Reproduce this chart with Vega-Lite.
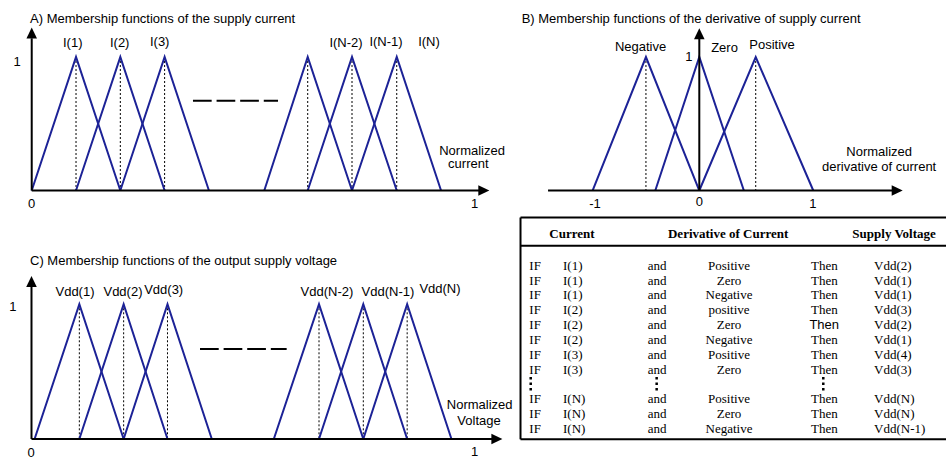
{
  "$schema": "https://vega.github.io/schema/vega-lite/v6.json",
  "background": "white",
  "padding": 0,
  "spacing": 0,
  "bounds": "flush",
  "columns": 2,
  "config": {"view": {"stroke": null}, "text": {"font": "Liberation Sans", "fontSize": 13, "color": "black"}},
  "datasets": {
    "A_mf": [
      {"fn": "I(1)", "k": 0, "x": 0, "mu": 0}, {"fn": "I(1)", "k": 1, "x": 0.1, "mu": 1}, {"fn": "I(1)", "k": 2, "x": 0.2, "mu": 0},
      {"fn": "I(2)", "k": 0, "x": 0.1, "mu": 0}, {"fn": "I(2)", "k": 1, "x": 0.2, "mu": 1}, {"fn": "I(2)", "k": 2, "x": 0.3, "mu": 0},
      {"fn": "I(3)", "k": 0, "x": 0.2, "mu": 0}, {"fn": "I(3)", "k": 1, "x": 0.3, "mu": 1}, {"fn": "I(3)", "k": 2, "x": 0.4, "mu": 0},
      {"fn": "I(N-2)", "k": 0, "x": 0.525, "mu": 0}, {"fn": "I(N-2)", "k": 1, "x": 0.623, "mu": 1}, {"fn": "I(N-2)", "k": 2, "x": 0.723, "mu": 0},
      {"fn": "I(N-1)", "k": 0, "x": 0.623, "mu": 0}, {"fn": "I(N-1)", "k": 1, "x": 0.723, "mu": 1}, {"fn": "I(N-1)", "k": 2, "x": 0.824, "mu": 0},
      {"fn": "I(N)", "k": 0, "x": 0.723, "mu": 0}, {"fn": "I(N)", "k": 1, "x": 0.824, "mu": 1}, {"fn": "I(N)", "k": 2, "x": 0.924, "mu": 0}
    ],
    "A_text": [
      {"kind": "title", "text": "A) Membership functions of the supply current", "x": -0.0038, "y": 1.284},
      {"kind": "label", "text": "I(1)", "x": 0.0926, "y": 1.103},
      {"kind": "label", "text": "I(2)", "x": 0.1986, "y": 1.103},
      {"kind": "label", "text": "I(3)", "x": 0.2889, "y": 1.115},
      {"kind": "label", "text": "I(N-2)", "x": 0.7095, "y": 1.103},
      {"kind": "label", "text": "I(N-1)", "x": 0.7998, "y": 1.115},
      {"kind": "label", "text": "I(N)", "x": 0.8968, "y": 1.11},
      {"kind": "label", "text": "1", "x": -0.0332, "y": 0.965},
      {"kind": "label", "text": "0", "x": 0, "y": -0.101},
      {"kind": "label", "text": "1", "x": 1.0, "y": -0.101},
      {"kind": "label", "text": "Normalized", "x": 0.994, "y": 0.298},
      {"kind": "label", "text": "current", "x": 0.9856, "y": 0.196}
    ],
    "B_mf": [
      {"fn": "Negative", "k": 0, "x": -0.97, "mu": 0}, {"fn": "Negative", "k": 1, "x": -0.485, "mu": 1}, {"fn": "Negative", "k": 2, "x": 0, "mu": 0},
      {"fn": "Zero", "k": 0, "x": -0.4, "mu": 0}, {"fn": "Zero", "k": 1, "x": 0, "mu": 1}, {"fn": "Zero", "k": 2, "x": 0.405, "mu": 0},
      {"fn": "Positive", "k": 0, "x": 0, "mu": 0}, {"fn": "Positive", "k": 1, "x": 0.513, "mu": 1}, {"fn": "Positive", "k": 2, "x": 1.036, "mu": 0}
    ],
    "B_text": [
      {"kind": "title", "text": "B) Membership functions of the derivative of supply current", "x": -1.615, "y": 1.2846},
      {"kind": "label", "text": "Negative", "x": -0.534, "y": 1.075},
      {"kind": "label", "text": "Zero", "x": 0.229, "y": 1.067},
      {"kind": "label", "text": "Positive", "x": 0.661, "y": 1.09},
      {"kind": "label", "text": "1", "x": -0.094, "y": 1.0},
      {"kind": "label", "text": "-1", "x": -0.948, "y": -0.101},
      {"kind": "label", "text": "0", "x": 0, "y": -0.086},
      {"kind": "label", "text": "1", "x": 1.033, "y": -0.101},
      {"kind": "label", "text": "Normalized", "x": 1.635, "y": 0.288},
      {"kind": "label", "text": "derivative of current", "x": 1.635, "y": 0.178}
    ],
    "C_mf": [
      {"fn": "Vdd(1)", "k": 0, "x": 0.007, "mu": 0}, {"fn": "Vdd(1)", "k": 1, "x": 0.108, "mu": 1}, {"fn": "Vdd(1)", "k": 2, "x": 0.208, "mu": 0},
      {"fn": "Vdd(2)", "k": 0, "x": 0.108, "mu": 0}, {"fn": "Vdd(2)", "k": 1, "x": 0.208, "mu": 1}, {"fn": "Vdd(2)", "k": 2, "x": 0.307, "mu": 0},
      {"fn": "Vdd(3)", "k": 0, "x": 0.208, "mu": 0}, {"fn": "Vdd(3)", "k": 1, "x": 0.307, "mu": 1}, {"fn": "Vdd(3)", "k": 2, "x": 0.407, "mu": 0},
      {"fn": "Vdd(N-2)", "k": 0, "x": 0.547, "mu": 0}, {"fn": "Vdd(N-2)", "k": 1, "x": 0.649, "mu": 1}, {"fn": "Vdd(N-2)", "k": 2, "x": 0.749, "mu": 0},
      {"fn": "Vdd(N-1)", "k": 0, "x": 0.649, "mu": 0}, {"fn": "Vdd(N-1)", "k": 1, "x": 0.749, "mu": 1}, {"fn": "Vdd(N-1)", "k": 2, "x": 0.848, "mu": 0},
      {"fn": "Vdd(N)", "k": 0, "x": 0.749, "mu": 0}, {"fn": "Vdd(N)", "k": 1, "x": 0.848, "mu": 1}, {"fn": "Vdd(N)", "k": 2, "x": 0.948, "mu": 0}
    ],
    "C_text": [
      {"kind": "title", "text": "C) Membership functions of the output supply voltage", "x": -0.0034, "y": 1.3237},
      {"kind": "label", "text": "Vdd(1)", "x": 0.0982, "y": 1.094},
      {"kind": "label", "text": "Vdd(2)", "x": 0.2065, "y": 1.094},
      {"kind": "label", "text": "Vdd(3)", "x": 0.2984, "y": 1.106},
      {"kind": "label", "text": "Vdd(N-2)", "x": 0.667, "y": 1.094},
      {"kind": "label", "text": "Vdd(N-1)", "x": 0.8047, "y": 1.094},
      {"kind": "label", "text": "Vdd(N)", "x": 0.9221, "y": 1.114},
      {"kind": "label", "text": "1", "x": -0.0418, "y": 0.982},
      {"kind": "label", "text": "0", "x": -0.001, "y": -0.102},
      {"kind": "label", "text": "1", "x": 1.0, "y": -0.0965},
      {"kind": "label", "text": "Normalized", "x": 1.0117, "y": 0.2524},
      {"kind": "label", "text": "Voltage", "x": 1.0102, "y": 0.1359}
    ],
    "T_rows": [
      {"row": 1, "cur": "I(1)", "der": "Positive", "out": "Vdd(2)"},
      {"row": 2, "cur": "I(1)", "der": "Zero", "out": "Vdd(1)"},
      {"row": 3, "cur": "I(1)", "der": "Negative", "out": "Vdd(1)"},
      {"row": 4, "cur": "I(2)", "der": "positive", "out": "Vdd(3)"},
      {"row": 5, "cur": "I(2)", "der": "Zero", "out": "Vdd(2)"},
      {"row": 6, "cur": "I(2)", "der": "Negative", "out": "Vdd(1)"},
      {"row": 7, "cur": "I(3)", "der": "Positive", "out": "Vdd(4)"},
      {"row": 8, "cur": "I(3)", "der": "Zero", "out": "Vdd(3)"},
      {"row": 10, "cur": "I(N)", "der": "Positive", "out": "Vdd(N)"},
      {"row": 11, "cur": "I(N)", "der": "Zero", "out": "Vdd(N)"},
      {"row": 12, "cur": "I(N)", "der": "Negative", "out": "Vdd(N-1)"}
    ]
  },
  "concat": [
    {
      "width": 490,
      "height": 210,
      "layer": [
        {
          "data": {"name": "A_mf"},
          "transform": [{"filter": "datum.mu == 1"}],
          "mark": {"type": "rule", "color": "black", "strokeWidth": 1, "strokeDash": [2, 2]},
          "encoding": {
            "x": {"field": "x", "type": "quantitative", "scale": {"domain": [-0.0716, 1.0345], "nice": false, "zero": false}, "axis": null},
            "y": {"field": "mu", "type": "quantitative", "scale": {"domain": [-0.146, 1.427], "nice": false, "zero": false}, "axis": null},
            "y2": {"datum": 0}
          }
        },
        {
          "data": {"name": "A_mf"},
          "mark": {"type": "line", "color": "#1c2296", "strokeWidth": 2},
          "encoding": {
            "x": {"field": "x", "type": "quantitative", "scale": {"domain": [-0.0716, 1.0345], "nice": false, "zero": false}, "axis": null},
            "y": {"field": "mu", "type": "quantitative", "scale": {"domain": [-0.146, 1.427], "nice": false, "zero": false}, "axis": null},
            "detail": {"field": "fn"},
            "order": {"field": "k"}
          }
        },
        {
          "data": {"values": [{}]},
          "mark": {"type": "rule", "color": "black", "strokeWidth": 2},
          "encoding": {
            "x": {"datum": 0, "type": "quantitative", "scale": {"domain": [-0.0716, 1.0345], "nice": false, "zero": false}, "axis": null},
            "y": {"datum": 0, "type": "quantitative", "scale": {"domain": [-0.146, 1.427], "nice": false, "zero": false}, "axis": null},
            "y2": {"datum": 1.14}
          }
        },
        {
          "data": {"values": [{}]},
          "mark": {"type": "rule", "color": "black", "strokeWidth": 2},
          "encoding": {
            "x": {"datum": 0, "type": "quantitative", "scale": {"domain": [-0.0716, 1.0345], "nice": false, "zero": false}, "axis": null},
            "x2": {"datum": 1.01},
            "y": {"datum": 0, "type": "quantitative", "scale": {"domain": [-0.146, 1.427], "nice": false, "zero": false}, "axis": null}
          }
        },
        {
          "data": {"values": [{}]},
          "mark": {"type": "rule", "color": "black", "strokeWidth": 2, "strokeDash": [18.7, 4.9]},
          "encoding": {
            "x": {"datum": 0.364, "type": "quantitative", "scale": {"domain": [-0.0716, 1.0345], "nice": false, "zero": false}, "axis": null},
            "x2": {"datum": 0.556},
            "y": {"datum": 0.673, "type": "quantitative", "scale": {"domain": [-0.146, 1.427], "nice": false, "zero": false}, "axis": null}
          }
        },
        {
          "data": {"values": [{}]},
          "mark": {"type": "point", "shape": "M0,0L0.96,2L-0.96,2Z", "size": 121, "filled": true, "color": "black", "opacity": 1, "strokeWidth": 0},
          "encoding": {
            "x": {"datum": 0, "type": "quantitative", "scale": {"domain": [-0.0716, 1.0345], "nice": false, "zero": false}, "axis": null},
            "y": {"datum": 1.221, "type": "quantitative", "scale": {"domain": [-0.146, 1.427], "nice": false, "zero": false}, "axis": null}
          }
        },
        {
          "data": {"values": [{}]},
          "mark": {"type": "point", "shape": "M0,0L-2,-0.96L-2,0.96Z", "size": 121, "filled": true, "color": "black", "opacity": 1, "strokeWidth": 0},
          "encoding": {
            "x": {"datum": 1.033, "type": "quantitative", "scale": {"domain": [-0.0716, 1.0345], "nice": false, "zero": false}, "axis": null},
            "y": {"datum": 0, "type": "quantitative", "scale": {"domain": [-0.146, 1.427], "nice": false, "zero": false}, "axis": null}
          }
        },
        {
          "data": {"name": "A_text"},
          "transform": [{"filter": "datum.kind == 'label'"}],
          "mark": {"type": "text", "align": "center", "baseline": "middle"},
          "encoding": {
            "x": {"field": "x", "type": "quantitative", "scale": {"domain": [-0.0716, 1.0345], "nice": false, "zero": false}, "axis": null},
            "y": {"field": "y", "type": "quantitative", "scale": {"domain": [-0.146, 1.427], "nice": false, "zero": false}, "axis": null},
            "text": {"field": "text"}
          }
        },
        {
          "data": {"name": "A_text"},
          "transform": [{"filter": "datum.kind == 'title'"}],
          "mark": {"type": "text", "align": "left", "baseline": "middle"},
          "encoding": {
            "x": {"field": "x", "type": "quantitative", "scale": {"domain": [-0.0716, 1.0345], "nice": false, "zero": false}, "axis": null},
            "y": {"field": "y", "type": "quantitative", "scale": {"domain": [-0.146, 1.427], "nice": false, "zero": false}, "axis": null},
            "text": {"field": "text"}
          }
        }
      ]
    },
    {
      "width": 456,
      "height": 210,
      "layer": [
        {
          "data": {"name": "B_mf"},
          "transform": [{"filter": "datum.mu == 1 && datum.x != 0"}],
          "mark": {"type": "rule", "color": "black", "strokeWidth": 1, "strokeDash": [2, 2]},
          "encoding": {
            "x": {"field": "x", "type": "quantitative", "scale": {"domain": [-1.9027, 2.2427], "nice": false, "zero": false}, "axis": null},
            "y": {"field": "mu", "type": "quantitative", "scale": {"domain": [-0.146, 1.427], "nice": false, "zero": false}, "axis": null},
            "y2": {"datum": 0}
          }
        },
        {
          "data": {"name": "B_mf"},
          "mark": {"type": "line", "color": "#1c2296", "strokeWidth": 2},
          "encoding": {
            "x": {"field": "x", "type": "quantitative", "scale": {"domain": [-1.9027, 2.2427], "nice": false, "zero": false}, "axis": null},
            "y": {"field": "mu", "type": "quantitative", "scale": {"domain": [-0.146, 1.427], "nice": false, "zero": false}, "axis": null},
            "detail": {"field": "fn"},
            "order": {"field": "k"}
          }
        },
        {
          "data": {"values": [{}]},
          "mark": {"type": "rule", "color": "black", "strokeWidth": 2},
          "encoding": {
            "x": {"datum": 0, "type": "quantitative", "scale": {"domain": [-1.9027, 2.2427], "nice": false, "zero": false}, "axis": null},
            "y": {"datum": 0, "type": "quantitative", "scale": {"domain": [-0.146, 1.427], "nice": false, "zero": false}, "axis": null},
            "y2": {"datum": 1.14}
          }
        },
        {
          "data": {"values": [{}]},
          "mark": {"type": "rule", "color": "black", "strokeWidth": 2},
          "encoding": {
            "x": {"datum": -1.375, "type": "quantitative", "scale": {"domain": [-1.9027, 2.2427], "nice": false, "zero": false}, "axis": null},
            "x2": {"datum": 1.76},
            "y": {"datum": 0, "type": "quantitative", "scale": {"domain": [-0.146, 1.427], "nice": false, "zero": false}, "axis": null}
          }
        },
        {
          "data": {"values": [{}]},
          "mark": {"type": "point", "shape": "M0,0L0.96,2L-0.96,2Z", "size": 121, "filled": true, "color": "black", "opacity": 1, "strokeWidth": 0},
          "encoding": {
            "x": {"datum": 0, "type": "quantitative", "scale": {"domain": [-1.9027, 2.2427], "nice": false, "zero": false}, "axis": null},
            "y": {"datum": 1.215, "type": "quantitative", "scale": {"domain": [-0.146, 1.427], "nice": false, "zero": false}, "axis": null}
          }
        },
        {
          "data": {"values": [{}]},
          "mark": {"type": "point", "shape": "M0,0L-2,-0.96L-2,0.96Z", "size": 121, "filled": true, "color": "black", "opacity": 1, "strokeWidth": 0},
          "encoding": {
            "x": {"datum": 1.849, "type": "quantitative", "scale": {"domain": [-1.9027, 2.2427], "nice": false, "zero": false}, "axis": null},
            "y": {"datum": 0, "type": "quantitative", "scale": {"domain": [-0.146, 1.427], "nice": false, "zero": false}, "axis": null}
          }
        },
        {
          "data": {"name": "B_text"},
          "transform": [{"filter": "datum.kind == 'label'"}],
          "mark": {"type": "text", "align": "center", "baseline": "middle"},
          "encoding": {
            "x": {"field": "x", "type": "quantitative", "scale": {"domain": [-1.9027, 2.2427], "nice": false, "zero": false}, "axis": null},
            "y": {"field": "y", "type": "quantitative", "scale": {"domain": [-0.146, 1.427], "nice": false, "zero": false}, "axis": null},
            "text": {"field": "text"}
          }
        },
        {
          "data": {"name": "B_text"},
          "transform": [{"filter": "datum.kind == 'title'"}],
          "mark": {"type": "text", "align": "left", "baseline": "middle"},
          "encoding": {
            "x": {"field": "x", "type": "quantitative", "scale": {"domain": [-1.9027, 2.2427], "nice": false, "zero": false}, "axis": null},
            "y": {"field": "y", "type": "quantitative", "scale": {"domain": [-0.146, 1.427], "nice": false, "zero": false}, "axis": null},
            "text": {"field": "text"}
          }
        }
      ]
    },
    {
      "width": 490,
      "height": 248,
      "layer": [
        {
          "data": {"name": "C_mf"},
          "transform": [{"filter": "datum.mu == 1"}],
          "mark": {"type": "rule", "color": "black", "strokeWidth": 1, "strokeDash": [2, 2]},
          "encoding": {
            "x": {"field": "x", "type": "quantitative", "scale": {"domain": [-0.0711, 1.035], "nice": false, "zero": false}, "axis": null},
            "y": {"field": "mu", "type": "quantitative", "scale": {"domain": [-0.141, 1.7], "nice": false, "zero": false}, "axis": null},
            "y2": {"datum": 0}
          }
        },
        {
          "data": {"name": "C_mf"},
          "mark": {"type": "line", "color": "#1c2296", "strokeWidth": 2},
          "encoding": {
            "x": {"field": "x", "type": "quantitative", "scale": {"domain": [-0.0711, 1.035], "nice": false, "zero": false}, "axis": null},
            "y": {"field": "mu", "type": "quantitative", "scale": {"domain": [-0.141, 1.7], "nice": false, "zero": false}, "axis": null},
            "detail": {"field": "fn"},
            "order": {"field": "k"}
          }
        },
        {
          "data": {"values": [{}]},
          "mark": {"type": "rule", "color": "black", "strokeWidth": 2},
          "encoding": {
            "x": {"datum": 0, "type": "quantitative", "scale": {"domain": [-0.0711, 1.035], "nice": false, "zero": false}, "axis": null},
            "y": {"datum": 0, "type": "quantitative", "scale": {"domain": [-0.141, 1.7], "nice": false, "zero": false}, "axis": null},
            "y2": {"datum": 1.13}
          }
        },
        {
          "data": {"values": [{}]},
          "mark": {"type": "rule", "color": "black", "strokeWidth": 2},
          "encoding": {
            "x": {"datum": 0, "type": "quantitative", "scale": {"domain": [-0.0711, 1.035], "nice": false, "zero": false}, "axis": null},
            "x2": {"datum": 1.04},
            "y": {"datum": 0, "type": "quantitative", "scale": {"domain": [-0.141, 1.7], "nice": false, "zero": false}, "axis": null}
          }
        },
        {
          "data": {"values": [{}]},
          "mark": {"type": "rule", "color": "black", "strokeWidth": 2, "strokeDash": [18.7, 4.9]},
          "encoding": {
            "x": {"datum": 0.3804, "type": "quantitative", "scale": {"domain": [-0.0711, 1.035], "nice": false, "zero": false}, "axis": null},
            "x2": {"datum": 0.576},
            "y": {"datum": 0.668, "type": "quantitative", "scale": {"domain": [-0.141, 1.7], "nice": false, "zero": false}, "axis": null}
          }
        },
        {
          "data": {"values": [{}]},
          "mark": {"type": "point", "shape": "M0,0L0.96,2L-0.96,2Z", "size": 121, "filled": true, "color": "black", "opacity": 1, "strokeWidth": 0},
          "encoding": {
            "x": {"datum": 0, "type": "quantitative", "scale": {"domain": [-0.0711, 1.035], "nice": false, "zero": false}, "axis": null},
            "y": {"datum": 1.21, "type": "quantitative", "scale": {"domain": [-0.141, 1.7], "nice": false, "zero": false}, "axis": null}
          }
        },
        {
          "data": {"values": [{}]},
          "mark": {"type": "point", "shape": "M0,0L-2,-0.96L-2,0.96Z", "size": 121, "filled": true, "color": "black", "opacity": 1, "strokeWidth": 0},
          "encoding": {
            "x": {"datum": 1.063, "type": "quantitative", "scale": {"domain": [-0.0711, 1.035], "nice": false, "zero": false}, "axis": null},
            "y": {"datum": 0, "type": "quantitative", "scale": {"domain": [-0.141, 1.7], "nice": false, "zero": false}, "axis": null}
          }
        },
        {
          "data": {"name": "C_text"},
          "transform": [{"filter": "datum.kind == 'label'"}],
          "mark": {"type": "text", "align": "center", "baseline": "middle"},
          "encoding": {
            "x": {"field": "x", "type": "quantitative", "scale": {"domain": [-0.0711, 1.035], "nice": false, "zero": false}, "axis": null},
            "y": {"field": "y", "type": "quantitative", "scale": {"domain": [-0.141, 1.7], "nice": false, "zero": false}, "axis": null},
            "text": {"field": "text"}
          }
        },
        {
          "data": {"name": "C_text"},
          "transform": [{"filter": "datum.kind == 'title'"}],
          "mark": {"type": "text", "align": "left", "baseline": "middle"},
          "encoding": {
            "x": {"field": "x", "type": "quantitative", "scale": {"domain": [-0.0711, 1.035], "nice": false, "zero": false}, "axis": null},
            "y": {"field": "y", "type": "quantitative", "scale": {"domain": [-0.141, 1.7], "nice": false, "zero": false}, "axis": null},
            "text": {"field": "text"}
          }
        }
      ]
    },
    {
      "width": 456,
      "height": 248,
      "data": {"name": "T_rows"},
      "layer": [
        {
          "data": {"values": [{}]},
          "mark": {"type": "rule", "color": "black", "strokeWidth": 2},
          "encoding": {
            "x": {"datum": 0, "type": "quantitative", "scale": {"domain": [-0.0717, 1.0], "nice": false, "zero": false}, "axis": null},
            "x2": {"datum": 1.0},
            "y": {"datum": -2.246, "type": "quantitative", "scale": {"domain": [-2.751, 13.949], "nice": false, "zero": false, "reverse": true}, "axis": null}
          }
        },
        {
          "data": {"values": [{}]},
          "mark": {"type": "rule", "color": "black", "strokeWidth": 2},
          "encoding": {
            "x": {"datum": 0, "type": "quantitative", "scale": {"domain": [-0.0717, 1.0], "nice": false, "zero": false}, "axis": null},
            "x2": {"datum": 1.0},
            "y": {"datum": -0.347, "type": "quantitative", "scale": {"domain": [-2.751, 13.949], "nice": false, "zero": false, "reverse": true}, "axis": null}
          }
        },
        {
          "data": {"values": [{}]},
          "mark": {"type": "rule", "color": "black", "strokeWidth": 2},
          "encoding": {
            "x": {"datum": 0, "type": "quantitative", "scale": {"domain": [-0.0717, 1.0], "nice": false, "zero": false}, "axis": null},
            "x2": {"datum": 1.0},
            "y": {"datum": 12.69, "type": "quantitative", "scale": {"domain": [-2.751, 13.949], "nice": false, "zero": false, "reverse": true}, "axis": null}
          }
        },
        {
          "data": {"values": [{}]},
          "mark": {"type": "rule", "color": "black", "strokeWidth": 2},
          "encoding": {
            "x": {"datum": 0, "type": "quantitative", "scale": {"domain": [-0.0717, 1.0], "nice": false, "zero": false}, "axis": null},
            "y": {"datum": -2.246, "type": "quantitative", "scale": {"domain": [-2.751, 13.949], "nice": false, "zero": false, "reverse": true}, "axis": null},
            "y2": {"datum": 12.69}
          }
        },
        {
          "data": {"values": [{}]},
          "mark": {"type": "text", "align": "center", "baseline": "middle", "font": "Liberation Serif", "fontWeight": "bold", "fontSize": 13},
          "encoding": {
            "x": {"datum": 0.121, "type": "quantitative", "scale": {"domain": [-0.0717, 1.0], "nice": false, "zero": false}, "axis": null},
            "y": {"datum": -1.135, "type": "quantitative", "scale": {"domain": [-2.751, 13.949], "nice": false, "zero": false, "reverse": true}, "axis": null},
            "text": {"value": "Current"}
          }
        },
        {
          "data": {"values": [{}]},
          "mark": {"type": "text", "align": "center", "baseline": "middle", "font": "Liberation Serif", "fontWeight": "bold", "fontSize": 13},
          "encoding": {
            "x": {"datum": 0.488, "type": "quantitative", "scale": {"domain": [-0.0717, 1.0], "nice": false, "zero": false}, "axis": null},
            "y": {"datum": -1.135, "type": "quantitative", "scale": {"domain": [-2.751, 13.949], "nice": false, "zero": false, "reverse": true}, "axis": null},
            "text": {"value": "Derivative of Current"}
          }
        },
        {
          "data": {"values": [{}]},
          "mark": {"type": "text", "align": "center", "baseline": "middle", "font": "Liberation Serif", "fontWeight": "bold", "fontSize": 13},
          "encoding": {
            "x": {"datum": 0.878, "type": "quantitative", "scale": {"domain": [-0.0717, 1.0], "nice": false, "zero": false}, "axis": null},
            "y": {"datum": -1.135, "type": "quantitative", "scale": {"domain": [-2.751, 13.949], "nice": false, "zero": false, "reverse": true}, "axis": null},
            "text": {"value": "Supply Voltage"}
          }
        },
        {
          "mark": {"type": "text", "align": "left", "baseline": "middle", "font": "Liberation Serif", "fontSize": 13},
          "encoding": {
            "x": {"datum": 0.0207, "type": "quantitative", "scale": {"domain": [-0.0717, 1.0], "nice": false, "zero": false}, "axis": null},
            "y": {"field": "row", "type": "quantitative", "scale": {"domain": [-2.751, 13.949], "nice": false, "zero": false, "reverse": true}, "axis": null},
            "text": {"value": "IF"}
          }
        },
        {
          "mark": {"type": "text", "align": "left", "baseline": "middle", "font": "Liberation Serif", "fontSize": 13},
          "encoding": {
            "x": {"datum": 0.0999, "type": "quantitative", "scale": {"domain": [-0.0717, 1.0], "nice": false, "zero": false}, "axis": null},
            "y": {"field": "row", "type": "quantitative", "scale": {"domain": [-2.751, 13.949], "nice": false, "zero": false, "reverse": true}, "axis": null},
            "text": {"field": "cur"}
          }
        },
        {
          "mark": {"type": "text", "align": "left", "baseline": "middle", "font": "Liberation Serif", "fontSize": 13},
          "encoding": {
            "x": {"datum": 0.299, "type": "quantitative", "scale": {"domain": [-0.0717, 1.0], "nice": false, "zero": false}, "axis": null},
            "y": {"field": "row", "type": "quantitative", "scale": {"domain": [-2.751, 13.949], "nice": false, "zero": false, "reverse": true}, "axis": null},
            "text": {"value": "and"}
          }
        },
        {
          "mark": {"type": "text", "align": "center", "baseline": "middle", "font": "Liberation Serif", "fontSize": 13},
          "encoding": {
            "x": {"datum": 0.49, "type": "quantitative", "scale": {"domain": [-0.0717, 1.0], "nice": false, "zero": false}, "axis": null},
            "y": {"field": "row", "type": "quantitative", "scale": {"domain": [-2.751, 13.949], "nice": false, "zero": false, "reverse": true}, "axis": null},
            "text": {"field": "der"}
          }
        },
        {
          "transform": [{"filter": "datum.row != 5"}],
          "mark": {"type": "text", "align": "left", "baseline": "middle", "font": "Liberation Serif", "fontSize": 13},
          "encoding": {
            "x": {"datum": 0.683, "type": "quantitative", "scale": {"domain": [-0.0717, 1.0], "nice": false, "zero": false}, "axis": null},
            "y": {"field": "row", "type": "quantitative", "scale": {"domain": [-2.751, 13.949], "nice": false, "zero": false, "reverse": true}, "axis": null},
            "text": {"value": "Then"}
          }
        },
        {
          "transform": [{"filter": "datum.row == 5"}],
          "mark": {"type": "text", "align": "left", "baseline": "middle", "font": "Liberation Sans", "fontSize": 13},
          "encoding": {
            "x": {"datum": 0.679, "type": "quantitative", "scale": {"domain": [-0.0717, 1.0], "nice": false, "zero": false}, "axis": null},
            "y": {"field": "row", "type": "quantitative", "scale": {"domain": [-2.751, 13.949], "nice": false, "zero": false, "reverse": true}, "axis": null},
            "text": {"value": "Then"}
          }
        },
        {
          "mark": {"type": "text", "align": "left", "baseline": "middle", "font": "Liberation Serif", "fontSize": 13},
          "encoding": {
            "x": {"datum": 0.831, "type": "quantitative", "scale": {"domain": [-0.0717, 1.0], "nice": false, "zero": false}, "axis": null},
            "y": {"field": "row", "type": "quantitative", "scale": {"domain": [-2.751, 13.949], "nice": false, "zero": false, "reverse": true}, "axis": null},
            "text": {"field": "out"}
          }
        },
        {
          "data": {"values": [{}]},
          "mark": {"type": "rule", "color": "black", "strokeWidth": 2.5, "strokeDash": [2.5, 3]},
          "encoding": {
            "x": {"datum": 0.024, "type": "quantitative", "scale": {"domain": [-0.0717, 1.0], "nice": false, "zero": false}, "axis": null},
            "y": {"datum": 8.5, "type": "quantitative", "scale": {"domain": [-2.751, 13.949], "nice": false, "zero": false, "reverse": true}, "axis": null},
            "y2": {"datum": 9.45}
          }
        },
        {
          "data": {"values": [{}]},
          "mark": {"type": "rule", "color": "black", "strokeWidth": 2.5, "strokeDash": [2.5, 3]},
          "encoding": {
            "x": {"datum": 0.32, "type": "quantitative", "scale": {"domain": [-0.0717, 1.0], "nice": false, "zero": false}, "axis": null},
            "y": {"datum": 8.5, "type": "quantitative", "scale": {"domain": [-2.751, 13.949], "nice": false, "zero": false, "reverse": true}, "axis": null},
            "y2": {"datum": 9.45}
          }
        },
        {
          "data": {"values": [{}]},
          "mark": {"type": "rule", "color": "black", "strokeWidth": 2.5, "strokeDash": [2.5, 3]},
          "encoding": {
            "x": {"datum": 0.7116, "type": "quantitative", "scale": {"domain": [-0.0717, 1.0], "nice": false, "zero": false}, "axis": null},
            "y": {"datum": 8.5, "type": "quantitative", "scale": {"domain": [-2.751, 13.949], "nice": false, "zero": false, "reverse": true}, "axis": null},
            "y2": {"datum": 9.45}
          }
        }
      ]
    }
  ]
}
